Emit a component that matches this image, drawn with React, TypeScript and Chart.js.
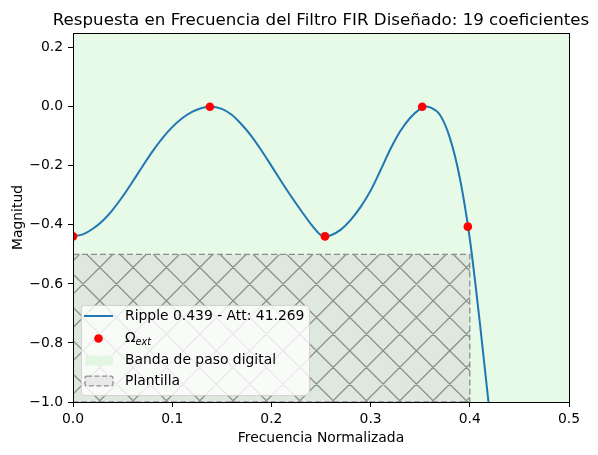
import React, { useEffect, useRef } from "react";
import { Chart, registerables } from "chart.js";

Chart.register(...registerables);

// ---- data ----
const freq = [
  0.0, 0.01, 0.02, 0.03, 0.04, 0.05, 0.06, 0.07, 0.08, 0.09,
  0.1, 0.11, 0.12, 0.13, 0.138, 0.15, 0.16, 0.17, 0.18, 0.19,
  0.2, 0.21, 0.22, 0.23, 0.24, 0.25, 0.254, 0.26, 0.27, 0.28,
  0.29, 0.3, 0.31, 0.32, 0.33, 0.34, 0.35, 0.355, 0.36, 0.37,
  0.38, 0.39, 0.4, 0.41, 0.42, 0.43,
];
const magnitude = [
  -0.439, -0.432, -0.413, -0.386, -0.349, -0.304, -0.254, -0.202, -0.152, -0.107,
  -0.069, -0.039, -0.017, -0.004, 0.0, -0.007, -0.027, -0.06, -0.1, -0.148,
  -0.2, -0.253, -0.304, -0.352, -0.398, -0.435, -0.439, -0.435, -0.416, -0.383,
  -0.339, -0.284, -0.215, -0.143, -0.082, -0.037, -0.007, 0.001, -0.002, -0.028,
  -0.106, -0.242, -0.447, -0.728, -1.036, -1.38,
];
const extFreq = [0.0, 0.138, 0.254, 0.352, 0.398];
const extMag = [-0.439, 0.0, -0.439, 0.0, -0.406];

const passbandFreq = [0.0, 0.5];
const templateFreq = [0.0, 0.4];
const templateMag = [-1.0, -0.5];

const xTicks = [0.0, 0.1, 0.2, 0.3, 0.4, 0.5];
const yTicks = [-1.0, -0.8, -0.6, -0.4, -0.2, 0.0, 0.2];
const xRange = [0.0, 0.5];
const yRange = [-1.0, 0.25];

const titleText = "Respuesta en Frecuencia del Filtro FIR Diseñado: 19 coeficientes";
const xLabel = "Frecuencia Normalizada";
const yLabel = "Magnitud";
const legendLabels = ["Ripple 0.439 - Att: 41.269", "Ω", "Banda de paso digital", "Plantilla"];
const legendSub = "ext";

const FONT = '"DejaVu Sans", sans-serif';
const LINE_COLOR = "#1f77b4";

const fmt = (v: number) => {
  const s = Math.abs(v).toFixed(1);
  return v < -1e-9 ? "\u2212" + s : s;
};

const decorPlugin = {
  id: "decor",
  beforeDatasetsDraw(chart: any) {
    const { ctx, chartArea, scales } = chart;
    const xs = scales.x;
    const ys = scales.y;
    ctx.save();
    ctx.beginPath();
    ctx.rect(chartArea.left, chartArea.top, chartArea.right - chartArea.left, chartArea.bottom - chartArea.top);
    ctx.clip();
    // passband
    const pb0 = xs.getPixelForValue(passbandFreq[0]);
    const pb1 = xs.getPixelForValue(passbandFreq[1]);
    ctx.fillStyle = "rgb(231,249,231)";
    ctx.fillRect(pb0, chartArea.top, pb1 - pb0, chartArea.bottom - chartArea.top);
    // template
    const tx0 = xs.getPixelForValue(templateFreq[0]);
    const tx1 = xs.getPixelForValue(templateFreq[1]);
    const ty0 = ys.getPixelForValue(templateMag[1]);
    const ty1 = ys.getPixelForValue(templateMag[0]);
    ctx.fillStyle = "#dfe8df";
    ctx.fillRect(tx0, ty0, tx1 - tx0, ty1 - ty0);
    // hatch
    ctx.save();
    ctx.beginPath();
    ctx.rect(tx0, ty0, tx1 - tx0, ty1 - ty0);
    ctx.clip();
    ctx.strokeStyle = "#8b908b";
    ctx.lineWidth = 1.3;
    const d = 100 / 3;
    const c1 = -1;
    const c2 = 0.5;
    ctx.beginPath();
    for (let k = -40; k < 60; k++) {
      const a = c1 + k * d;
      ctx.moveTo(ty0 - 50 + a, ty0 - 50);
      ctx.lineTo(ty1 + 50 + a, ty1 + 50);
      const b = c2 + k * d;
      ctx.moveTo(b - (ty0 - 50), ty0 - 50);
      ctx.lineTo(b - (ty1 + 50), ty1 + 50);
    }
    ctx.stroke();
    ctx.restore();
    // dashed edge
    ctx.setLineDash([6, 3]);
    ctx.strokeStyle = "#8c8c8c";
    ctx.lineWidth = 1.3;
    ctx.strokeRect(tx0, ty0, tx1 - tx0, ty1 - ty0);
    ctx.restore();
  },
  afterDraw(chart: any) {
    const { ctx, chartArea } = chart;
    ctx.save();
    // frame
    ctx.strokeStyle = "#000";
    ctx.lineWidth = 1;
    ctx.strokeRect(chartArea.left + 0.5, chartArea.top + 0.5, chartArea.right - chartArea.left, chartArea.bottom - chartArea.top);
    // title
    ctx.fillStyle = "#000";
    ctx.font = `16.67px ${FONT}`;
    ctx.textAlign = "center";
    ctx.textBaseline = "alphabetic";
    const cx = (chartArea.left + chartArea.right) / 2;
    ctx.fillText(titleText, cx, 24.7);
    // axis labels
    ctx.font = `13.9px ${FONT}`;
    ctx.fillText(xLabel, cx, 441.7);
    ctx.save();
    ctx.translate(21.7, (chartArea.top + chartArea.bottom) / 2);
    ctx.rotate(-Math.PI / 2);
    ctx.fillText(yLabel, 0, 0);
    ctx.restore();

    // legend
    const lx = 81, ly = 305, lw = 228, lh = 90;
    ctx.beginPath();
    ctx.roundRect(lx + 0.5, ly + 0.5, lw, lh, 3);
    ctx.fillStyle = "rgba(255,255,255,0.8)";
    ctx.fill();
    ctx.strokeStyle = "rgba(204,204,204,0.8)";
    ctx.lineWidth = 1;
    ctx.stroke();

    const rows = [316, 338.5, 360.5, 381];
    const hx0 = 84, hx1 = 113;
    ctx.strokeStyle = LINE_COLOR;
    ctx.lineWidth = 2;
    ctx.beginPath();
    ctx.moveTo(hx0, rows[0]);
    ctx.lineTo(hx1, rows[0]);
    ctx.stroke();
    ctx.fillStyle = "red";
    ctx.beginPath();
    ctx.arc((hx0 + hx1) / 2, rows[1], 4.3, 0, Math.PI * 2);
    ctx.fill();
    ctx.fillStyle = "rgb(226,246,226)";
    ctx.fillRect(hx0 + 1, rows[2] - 4.8, hx1 - hx0 - 1, 9.7);
    ctx.beginPath();
    ctx.roundRect(hx0 + 1, rows[3] - 4.8, hx1 - hx0 - 1, 9.7, 2);
    ctx.fillStyle = "#e9e9e9";
    ctx.fill();
    ctx.setLineDash([5, 2.5]);
    ctx.strokeStyle = "#8c8c8c";
    ctx.lineWidth = 1.3;
    ctx.stroke();
    ctx.setLineDash([]);

    ctx.fillStyle = "#000";
    ctx.textAlign = "left";
    ctx.textBaseline = "middle";
    ctx.font = `13.9px ${FONT}`;
    const tx = 125;
    ctx.fillText(legendLabels[0], tx, rows[0]);
    ctx.fillText(legendLabels[1], tx, rows[1]);
    const ow = ctx.measureText(legendLabels[1]).width;
    ctx.font = `italic 9.7px ${FONT}`;
    ctx.fillText(legendSub, tx + ow, rows[1] + 3.5);
    ctx.font = `13.9px ${FONT}`;
    ctx.fillText(legendLabels[2], tx, rows[2]);
    ctx.fillText(legendLabels[3], tx, rows[3]);
    ctx.restore();
  },
};

export default function App() {
  const ref = useRef<HTMLCanvasElement | null>(null);

  useEffect(() => {
    document.body.style.margin = "0";
    const canvas = ref.current;
    if (!canvas) return;
    const tickFont = { family: FONT, size: 13.9 };
    const chart = new Chart(canvas, {
      type: "line",
      data: {
        datasets: [
          {
            label: "ext",
            data: extFreq.map((f, i) => ({ x: f, y: extMag[i] })),
            showLine: false,
            pointRadius: 4.3,
            pointBackgroundColor: "red",
            pointBorderWidth: 0,
            pointBorderColor: "red",
            clip: 0,
            order: 0,
          } as any,
          {
            label: "ripple",
            data: freq.map((f, i) => ({ x: f, y: magnitude[i] })),
            borderColor: LINE_COLOR,
            borderWidth: 2,
            pointRadius: 0,
            cubicInterpolationMode: "monotone",
            fill: false,
            clip: 0,
            order: 1,
          } as any,
        ],
      },
      options: {
        animation: false,
        responsive: false,
        devicePixelRatio: 1,
        layout: { padding: { left: 0, right: 29, top: 33, bottom: 0 } },
        plugins: { legend: { display: false }, tooltip: { enabled: false }, title: { display: false } },
        events: [],
        scales: {
          x: {
            type: "linear",
            min: xRange[0],
            max: xRange[1],
            afterBuildTicks: (s: any) => {
              s.ticks = xTicks.map((v) => ({ value: v }));
            },
            afterFit: (s: any) => {
              s.height = 53;
            },
            ticks: {
              callback: (v: any) => fmt(Number(v)),
              font: tickFont,
              color: "#000",
              padding: 4,
              maxRotation: 0,
              autoSkip: false,
            },
            grid: { drawOnChartArea: false, drawTicks: true, tickLength: 5, color: "#000", lineWidth: 1 },
            border: { display: false },
          },
          y: {
            type: "linear",
            min: yRange[0],
            max: yRange[1],
            afterBuildTicks: (s: any) => {
              s.ticks = yTicks.map((v) => ({ value: v }));
            },
            afterFit: (s: any) => {
              s.width = 73;
            },
            ticks: {
              callback: (v: any) => fmt(Number(v)),
              font: tickFont,
              color: "#000",
              padding: 5,
              autoSkip: false,
            },
            grid: { drawOnChartArea: false, drawTicks: true, tickLength: 5, color: "#000", lineWidth: 1 },
            border: { display: false },
          },
        },
      } as any,
      plugins: [decorPlugin],
    });
    return () => chart.destroy();
  }, []);

  return <canvas ref={ref} width={598} height={455} style={{ display: "block" }} />;
}
